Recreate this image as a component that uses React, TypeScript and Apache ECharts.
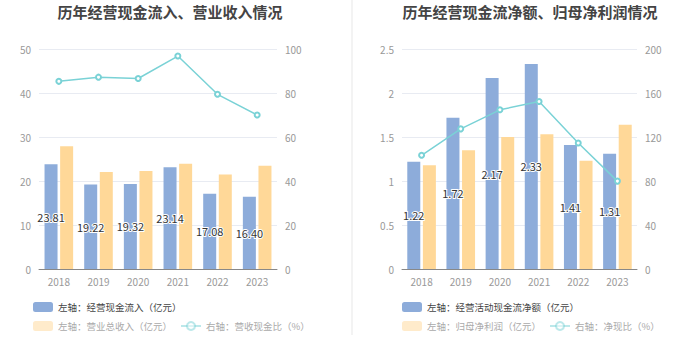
import React, { useEffect, useRef } from "react";
import * as echarts from "echarts";

const years = ["2018", "2019", "2020", "2021", "2022", "2023"];

// Left chart
const cashInflow = [23.81, 19.22, 19.32, 23.14, 17.08, 16.4];
const revenue = [27.9, 22.05, 22.3, 23.9, 21.5, 23.45];
const cashRevenueRatio = [85.3, 87.2, 86.6, 96.8, 79.4, 70.0];

// Right chart
const netCashFlow = [1.22, 1.72, 2.17, 2.33, 1.41, 1.31];
const netProfit = [1.18, 1.35, 1.5, 1.53, 1.23, 1.64];
const netCashRatio = [103.4, 127.4, 144.7, 152.3, 114.6, 79.9];

const leftNames = ["左轴：经营现金流入（亿元）", "左轴：营业总收入（亿元）", "右轴：营收现金比（%）"];
const rightNames = ["左轴：经营活动现金流净额（亿元）", "左轴：归母净利润（亿元）", "右轴：净现比（%）"];

const BLUE = "#8DACDA";
const ORANGE = "#FFD898";
const CYAN = "#7AD2D6";
const FONT = "'Noto Sans CJK SC', 'Noto Sans', sans-serif";

export default function App() {
  const ref = useRef<HTMLDivElement>(null);
  useEffect(() => {
    if (!ref.current) return;
    const chart = echarts.init(ref.current, undefined, { renderer: "svg" });
    const axisLabel = { color: "#999", fontSize: 10, fontFamily: FONT };
    const splitLine = { lineStyle: { color: "#E8EBF2" } };
    const barLabel = {
      show: true,
      position: "inside",
      color: "#333",
      fontSize: 11,
      fontFamily: FONT,
      textBorderColor: "#fff",
      textBorderWidth: 2,
    };
    const fadedText = { color: "#aaa" };
    const mkLegend = (names: string[], left: number) => [
      {
        data: [names[0]],
        left,
        top: 297,
        itemWidth: 20,
        itemHeight: 10,
        itemGap: 8,
        textStyle: { color: "#444", fontSize: 9.5, fontFamily: FONT },
        icon: "roundRect",
      },
      {
        data: [
          { name: names[1], icon: "roundRect", itemStyle: { opacity: 0.5 }, textStyle: fadedText },
          { name: names[2], itemStyle: { opacity: 0.5 }, lineStyle: { opacity: 0.5 }, textStyle: fadedText },
        ],
        left,
        top: 316,
        itemWidth: 20,
        itemHeight: 10,
        itemGap: 8,
        textStyle: { color: "#aaa", fontSize: 9.5, fontFamily: FONT },
      },
    ];
    const option: any = {
      animation: false,
      textStyle: { fontFamily: FONT },
      graphic: [
        {
          type: "text",
          x: 170,
          y: 11,
          style: {
            text: "历年经营现金流入、营业收入情况",
            fontSize: 15,
            fontWeight: "bold",
            fill: "#444",
            fontFamily: FONT,
            textAlign: "center",
            textVerticalAlign: "middle",
          },
        },
        {
          type: "text",
          x: 530,
          y: 11,
          style: {
            text: "历年经营现金流净额、归母净利润情况",
            fontSize: 15,
            fontWeight: "bold",
            fill: "#444",
            fontFamily: FONT,
            textAlign: "center",
            textVerticalAlign: "middle",
          },
        },
        {
          type: "rect",
          shape: { x: 351, y: 0, width: 2, height: 335 },
          style: { fill: "#F3F3F3" },
        },
      ],
      legend: [...mkLegend(leftNames, 28), ...mkLegend(rightNames, 397)],
      grid: [
        { left: 39, right: 423, top: 49, bottom: 90 },
        { left: 402, right: 63, top: 49, bottom: 90 },
      ],
      xAxis: [0, 1].map((i) => ({
        type: "category",
        gridIndex: i,
        data: years,
        axisLine: { lineStyle: { color: "#888" } },
        axisTick: { show: false },
        axisLabel: { ...axisLabel, margin: 7 },
      })),
      yAxis: [
        { type: "value", gridIndex: 0, min: 0, max: 50, interval: 10, axisLabel, splitLine, axisLine: { show: false } },
        { type: "value", gridIndex: 0, min: 0, max: 100, interval: 20, axisLabel, splitLine: { show: false }, axisLine: { show: false } },
        { type: "value", gridIndex: 1, min: 0, max: 2.5, interval: 0.5, axisLabel, splitLine, axisLine: { show: false } },
        { type: "value", gridIndex: 1, min: 0, max: 200, interval: 40, axisLabel, splitLine: { show: false }, axisLine: { show: false } },
      ],
      series: [
        {
          name: leftNames[0],
          type: "bar",
          xAxisIndex: 0,
          yAxisIndex: 0,
          data: cashInflow,
          barWidth: 13,
          barGap: "20%",
          itemStyle: { color: BLUE },
          label: { ...barLabel, formatter: (p: any) => p.value.toFixed(2) },
        },
        {
          name: leftNames[1],
          type: "bar",
          xAxisIndex: 0,
          yAxisIndex: 0,
          data: revenue,
          barWidth: 13,
          barGap: "20%",
          itemStyle: { color: ORANGE },
        },
        {
          name: leftNames[2],
          type: "line",
          xAxisIndex: 0,
          yAxisIndex: 1,
          data: cashRevenueRatio,
          symbol: "emptyCircle",
          symbolSize: 5,
          itemStyle: { color: CYAN },
          lineStyle: { color: CYAN, width: 1.5 },
        },
        {
          name: rightNames[0],
          type: "bar",
          xAxisIndex: 1,
          yAxisIndex: 2,
          data: netCashFlow,
          barWidth: 13,
          barGap: "20%",
          itemStyle: { color: BLUE },
          label: { ...barLabel, formatter: (p: any) => p.value.toFixed(2) },
        },
        {
          name: rightNames[1],
          type: "bar",
          xAxisIndex: 1,
          yAxisIndex: 2,
          data: netProfit,
          barWidth: 13,
          barGap: "20%",
          itemStyle: { color: ORANGE },
        },
        {
          name: rightNames[2],
          type: "line",
          xAxisIndex: 1,
          yAxisIndex: 3,
          data: netCashRatio,
          symbol: "emptyCircle",
          symbolSize: 5,
          itemStyle: { color: CYAN },
          lineStyle: { color: CYAN, width: 1.5 },
        },
      ],
    };
    chart.setOption(option);
    return () => chart.dispose();
  }, []);
  return (
    <div
      ref={ref}
      style={{ position: "absolute", left: 0, top: 0, width: 700, height: 359, background: "#fff" }}
    />
  );
}
